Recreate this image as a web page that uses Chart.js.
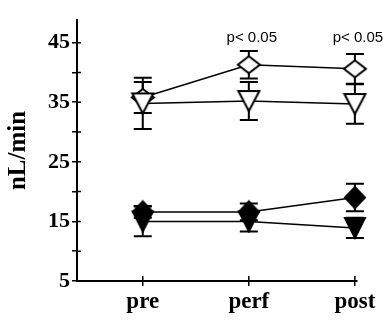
<!DOCTYPE html>
<html>
<head>
<meta charset="utf-8">
<script src="https://cdn.jsdelivr.net/npm/chart.js@4"></script>
<style>
html,body{margin:0;padding:0;background:#fff;}
canvas{display:block;}
</style>
</head>
<body>
<canvas id="c" width="383" height="324"></canvas>
<script>
const categories = ['pre', 'perf', 'post'];
const xPositions = [1, 2, 3];
const yTickValues = [5, 10, 15, 20, 25, 30, 35, 40, 45];
const yTickLabels = ['5', '', '15', '', '25', '', '35', '', '45'];

const openDiamond = [35.8, 41.3, 40.6];
const openDiamondErr = [2.6, 2.3, 2.5];
const openTriangle = [34.8, 35.2, 34.7];
const openTriangleErr = [4.3, 3.2, 3.3];
const filledDiamond = [16.6, 16.6, 19.0];
const filledDiamondErr = [1.0, 1.4, 2.3];
const filledTriangle = [15.0, 15.0, 13.9];
const filledTriangleErr = [2.5, 1.7, 1.7];

const annotations = ['', 'p< 0.05', 'p< 0.05'];

function marker(shape, filled, w, h) {
  const c = document.createElement('canvas');
  c.width = w + 4; c.height = h + 4;
  const g = c.getContext('2d');
  g.lineWidth = 2;
  g.strokeStyle = '#000';
  g.fillStyle = filled ? '#000' : '#fff';
  g.beginPath();
  const x0 = 2, y0 = 2;
  if (shape === 'diamond') {
    g.moveTo(x0 + w / 2, y0);
    g.lineTo(x0 + w, y0 + h / 2);
    g.lineTo(x0 + w / 2, y0 + h);
    g.lineTo(x0, y0 + h / 2);
  } else {
    g.moveTo(x0, y0);
    g.lineTo(x0 + w, y0);
    g.lineTo(x0 + w / 2, y0 + h);
  }
  g.closePath();
  g.fill();
  g.stroke();
  return c;
}

const mOpenDiamond = marker('diamond', false, 22, 17);
const mOpenTriangle = marker('triangle', false, 21, 20);
const mFilledDiamond = marker('diamond', true, 20, 21);
const mFilledTriangle = marker('triangle', true, 20, 20);

function pts(arr) { return arr.map((v, i) => ({x: xPositions[i], y: v})); }

const errorBars = {
  id: 'errorBars',
  beforeDatasetsDraw(chart) {
    const ctx = chart.ctx;
    const xs = chart.scales.x, ys = chart.scales.y;
    ctx.save();
    ctx.strokeStyle = '#000';
    ctx.lineWidth = 2;
    chart.data.datasets.forEach(ds => {
      ds.data.forEach((p, i) => {
        const e = ds.errors[i];
        const px = xs.getPixelForValue(p.x);
        const top = ys.getPixelForValue(p.y + e);
        const bot = ys.getPixelForValue(p.y - e);
        ctx.beginPath();
        ctx.moveTo(px, top); ctx.lineTo(px, bot);
        ctx.moveTo(px - 9, top); ctx.lineTo(px + 9, top);
        ctx.moveTo(px - 9, bot); ctx.lineTo(px + 9, bot);
        ctx.stroke();
      });
    });
    ctx.restore();
  },
  afterDraw(chart) {
    const ctx = chart.ctx;
    const xs = chart.scales.x, ys = chart.scales.y;
    ctx.save();
    ctx.strokeStyle = '#000';
    ctx.lineWidth = 1.5;
    ctx.beginPath();
    yTickValues.forEach(v => {
      const py = ys.getPixelForValue(v);
      ctx.moveTo(xs.left, py); ctx.lineTo(xs.left + 4, py);
    });
    xPositions.forEach(v => {
      const px = xs.getPixelForValue(v);
      ctx.moveTo(px, ys.bottom); ctx.lineTo(px, ys.bottom - 5);
    });
    ctx.stroke();
    ctx.fillStyle = '#000';
    ctx.font = '15px "Liberation Sans", Arial, sans-serif';
    ctx.textAlign = 'center';
    ctx.textBaseline = 'alphabetic';
    annotations.forEach((t, i) => {
      if (!t) return;
      ctx.fillText(t, xs.getPixelForValue(xPositions[i]) + 3, 42);
    });
    ctx.restore();
  }
};

const lineBase = {
  showLine: true,
  borderColor: '#000',
  borderWidth: 1.5,
  tension: 0,
  pointRadius: 10,
  pointHoverRadius: 10,
  fill: false,
  clip: false
};

new Chart(document.getElementById('c'), {
  type: 'scatter',
  data: {
    datasets: [
      Object.assign({}, lineBase, {label: 'open triangle', data: pts(openTriangle), errors: openTriangleErr, pointStyle: mOpenTriangle, order: 1}),
      Object.assign({}, lineBase, {label: 'open diamond', data: pts(openDiamond), errors: openDiamondErr, pointStyle: mOpenDiamond, order: 2}),
      Object.assign({}, lineBase, {label: 'filled diamond', data: pts(filledDiamond), errors: filledDiamondErr, pointStyle: mFilledDiamond, order: 3}),
      Object.assign({}, lineBase, {label: 'filled triangle', data: pts(filledTriangle), errors: filledTriangleErr, pointStyle: mFilledTriangle, order: 4})
    ]
  },
  options: {
    responsive: false,
    animation: false,
    layout: {padding: {top: 20, right: 26, left: 0, bottom: 0}},
    plugins: {legend: {display: false}, tooltip: {enabled: false}},
    scales: {
      x: {
        type: 'linear',
        min: 0.38,
        max: 3.02,
        afterBuildTicks: s => { s.ticks = xPositions.map(v => ({value: v})); },
        afterFit: s => { s.height = 43; },
        ticks: {
          callback: v => categories[xPositions.indexOf(v)] || '',
          color: '#000',
          font: {family: '"Liberation Serif", "Times New Roman", serif', size: 23, weight: 'bold'},
          padding: 2,
          maxRotation: 0,
          autoSkip: false
        },
        grid: {drawOnChartArea: false, color: '#000', lineWidth: 1.5, tickLength: 5},
        border: {color: '#000', width: 2}
      },
      y: {
        type: 'linear',
        min: 5,
        max: 48.8,
        afterBuildTicks: s => { s.ticks = yTickValues.map(v => ({value: v})); },
        afterFit: s => { s.width = 77; },
        ticks: {
          callback: v => yTickLabels[yTickValues.indexOf(v)],
          color: '#000',
          font: {family: '"Liberation Serif", "Times New Roman", serif', size: 22, weight: 'bold'},
          padding: 2,
          autoSkip: false
        },
        title: {
          display: true,
          text: 'nL/min',
          color: '#000',
          font: {family: '"Liberation Serif", "Times New Roman", serif', size: 25, weight: 'bold'},
          padding: {top: 4, bottom: 0}
        },
        grid: {drawOnChartArea: false, color: '#000', lineWidth: 1.5, tickLength: 5},
        border: {color: '#000', width: 2}
      }
    }
  },
  plugins: [errorBars]
});
</script>
</body>
</html>
